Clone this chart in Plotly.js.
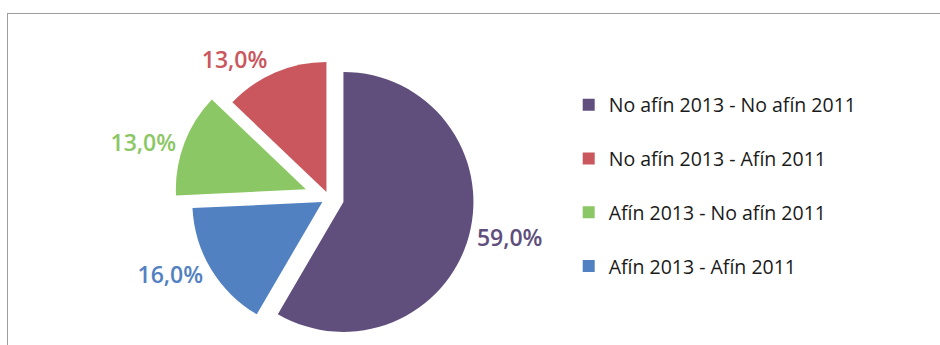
<!DOCTYPE html>
<html>
<head>
<meta charset="utf-8">
<script src="https://cdn.plot.ly/plotly-3.0.1.min.js"></script>
<style>
  html, body { margin: 0; padding: 0; background: #ffffff; overflow: hidden; }
  #chart { position: absolute; left: 0; top: 0; width: 940px; height: 360px; }
  #frame { position: absolute; left: 7px; top: 13px; width: 960px; height: 400px;
           border-left: 1.5px solid #9d9d9d; border-top: 1.5px solid #9d9d9d;
           pointer-events: none; z-index: 5; }
</style>
</head>
<body>
<div id="chart"></div>
<div id="frame"></div>
<script>
// Categories in legend order
const categories = [
  "No afín 2013 - No afín 2011",
  "No afín 2013 - Afín 2011",
  "Afín 2013 - No afín 2011",
  "Afín 2013 - Afín 2011"
];
// Values (percent) as labelled in the chart
const values = [59.0, 13.0, 13.0, 16.0];
const colors = ["#604F7C", "#C9575D", "#8BC764", "#5281C2"];
const pulls = [0.115, 0.05, 0.19, 0.06];

const valueLabels = values.map(v => v.toFixed(1).replace('.', ',') + '%');
const legendLabels = categories.map(c => c + '<br>\u00a0');

const trace = {
  type: 'pie',
  labels: legendLabels,
  values: values,
  text: valueLabels,
  textinfo: 'text',
  textposition: 'outside',
  sort: false,
  direction: 'counterclockwise',
  rotation: 0,
  pull: pulls,
  marker: { colors: colors, line: { width: 0 } },
  outsidetextfont: { family: 'Open Sans, sans-serif', size: 23, weight: 600, color: colors },
  hoverinfo: 'none',
  domain: { x: [0.1854, 0.5146], y: [0.0203, 0.8797] }
};

const layout = {
  width: 940,
  height: 360,
  margin: { l: 0, r: 0, t: 0, b: 0 },
  paper_bgcolor: '#ffffff',
  showlegend: true,
  legend: {
    x: 0.605, xanchor: 'left',
    y: 0.762, yanchor: 'top',
    font: { family: 'Open Sans, sans-serif', size: 19.5, color: '#1a1a1a' },
    valign: 'top',
    traceorder: 'normal'
  }
};

Plotly.newPlot('chart', [trace], layout, { staticPlot: true, displayModeBar: false });
</script>
</body>
</html>
